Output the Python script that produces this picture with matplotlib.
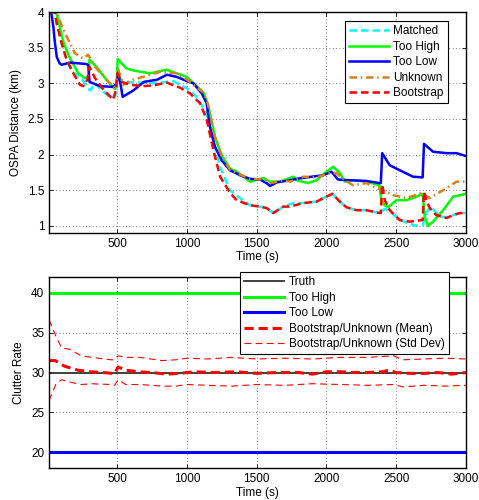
import matplotlib
matplotlib.use("Agg")
import matplotlib.pyplot as plt

plt.rcParams['font.family'] = ['Liberation Sans', 'DejaVu Sans']
plt.rcParams['font.size'] = 8.5

# ---- top panel: OSPA distance (km) vs time (s)
t_low = [10, 25, 40, 50, 65, 85, 100, 160, 280, 292, 300, 375, 470, 495, 507, 538, 615, 690, 785,
         855, 925, 1000, 1045, 1105, 1140, 1164, 1200, 1248, 1308, 1380, 1451, 1523, 1570, 1595,
         1643, 1738, 1786, 1857, 1976, 2036, 2083, 2167, 2287, 2380, 2390, 2400, 2454, 2526, 2621,
         2690, 2700, 2765, 2861, 2933, 3000]
ospa_low = [4.0, 4.0, 3.8, 3.6, 3.37, 3.28, 3.26, 3.29, 3.27, 3.25, 3.02, 2.96, 2.95, 3.0, 3.16,
            2.81, 2.9, 3.02, 3.05, 3.12, 3.09, 3.03, 3.0, 2.86, 2.72, 2.39, 2.11, 1.92, 1.78, 1.71,
            1.66, 1.65, 1.6, 1.56, 1.61, 1.64, 1.66, 1.68, 1.71, 1.76, 1.65, 1.64, 1.63, 1.6, 1.6,
            2.02, 1.85, 1.78, 1.69, 1.68, 2.15, 2.04, 2.02, 2.02, 1.98]

t_high = [10, 60, 75, 115, 160, 220, 268, 292, 300, 350, 422, 482, 494, 502, 565, 613, 733, 853,
          997, 1117, 1150, 1200, 1250, 1310, 1356, 1452, 1547, 1595, 1667, 1762, 1786, 1870, 1929,
          2000, 2048, 2096, 2132, 2191, 2287, 2380, 2394, 2418, 2442, 2502, 2574, 2646, 2690, 2705,
          2729, 2765, 2837, 2909, 2957, 3000]
ospa_high = [4.0, 4.0, 3.89, 3.56, 3.35, 3.14, 3.07, 3.1, 3.33, 3.23, 3.05, 2.92, 2.95, 3.34, 3.21,
             3.18, 3.14, 3.19, 3.09, 2.87, 2.7, 2.25, 1.98, 1.8, 1.76, 1.62, 1.67, 1.62, 1.62, 1.69,
             1.64, 1.6, 1.64, 1.76, 1.83, 1.74, 1.62, 1.64, 1.62, 1.57, 1.36, 1.29, 1.26, 1.36,
             1.36, 1.41, 1.45, 1.13, 1.0, 1.06, 1.22, 1.41, 1.43, 1.45]

t_unk = [10, 70, 75, 125, 196, 255, 290, 340, 422, 470, 490, 505, 540, 613, 685, 805, 925, 1000,
         1117, 1150, 1200, 1250, 1310, 1380, 1450, 1550, 1600, 1700, 1738, 1834, 1929, 2024, 2072,
         2132, 2191, 2287, 2359, 2407, 2478, 2574, 2681, 2741, 2837, 2933, 3000]
ospa_unk = [4.0, 4.0, 3.93, 3.7, 3.42, 3.35, 3.4, 3.23, 3.05, 2.95, 2.93, 3.2, 2.98, 3.05, 3.09,
            3.16, 3.14, 3.05, 2.87, 2.7, 2.25, 1.97, 1.78, 1.72, 1.66, 1.65, 1.6, 1.64, 1.62, 1.69,
            1.68, 1.74, 1.74, 1.64, 1.57, 1.6, 1.53, 1.5, 1.43, 1.39, 1.46, 1.39, 1.5, 1.62, 1.62]

t_boot = [10, 50, 65, 100, 136, 184, 231, 255, 284, 300, 340, 400, 470, 490, 500, 530, 590, 685,
          757, 853, 948, 1020, 1093, 1141, 1189, 1237, 1309, 1356, 1451, 1523, 1571, 1619, 1690,
          1738, 1834, 1929, 2000, 2043, 2096, 2144, 2215, 2287, 2380, 2390, 2400, 2418, 2454, 2526,
          2598, 2681, 2690, 2700, 2717, 2741, 2789, 2861, 2909, 2957, 3000]
ospa_boot = [4.0, 4.0, 3.84, 3.56, 3.33, 3.14, 2.98, 2.96, 3.05, 3.23, 3.07, 2.91, 2.77, 2.91,
             3.14, 3.02, 2.98, 2.96, 2.97, 3.01, 2.94, 2.86, 2.72, 2.49, 2.06, 1.69, 1.46, 1.36,
             1.29, 1.27, 1.25, 1.18, 1.27, 1.27, 1.32, 1.34, 1.41, 1.45, 1.34, 1.26, 1.22, 1.22,
             1.18, 1.18, 1.58, 1.36, 1.22, 1.08, 1.06, 1.08, 1.08, 1.48, 1.36, 1.25, 1.15, 1.11,
             1.15, 1.18, 1.18]

t_match = [10, 50, 65, 100, 136, 173, 209, 250, 280, 305, 340, 400, 460, 485, 500, 540, 660, 757,
           853, 902, 997, 1069, 1140, 1188, 1236, 1308, 1380, 1451, 1523, 1571, 1619, 1690, 1762,
           1834, 1929, 2000, 2043, 2096, 2144, 2215, 2287, 2380, 2420, 2454, 2502, 2574, 2646,
           2690, 2720, 2753, 2813, 2861, 2909, 2957, 3000]
ospa_match = [4.0, 4.0, 3.84, 3.56, 3.33, 3.16, 3.12, 3.05, 2.95, 2.9, 3.0, 2.88, 2.79, 2.83, 3.1,
              3.02, 3.01, 3.0, 3.02, 3.03, 2.93, 2.81, 2.58, 2.2, 1.83, 1.5, 1.39, 1.29, 1.27,
              1.25, 1.18, 1.27, 1.32, 1.32, 1.34, 1.41, 1.45, 1.34, 1.26, 1.22, 1.22, 1.18, 1.24,
              1.2, 1.13, 1.04, 1.0, 1.01, 1.2, 1.26, 1.13, 1.12, 1.15, 1.18, 1.18]

# ---- bottom panel: clutter rate
t_mean = [10, 55, 120, 216, 300, 400, 460, 480, 505, 560, 650, 750, 850, 950, 1050, 1200, 1350,
          1500, 1650, 1800, 1900, 2000, 2100, 2200, 2300, 2400, 2450, 2500, 2600, 2700, 2800,
          2900, 3000]
rate_mean = [31.5, 31.5, 30.8, 30.3, 30.1, 30.0, 29.9, 29.9, 30.7, 30.3, 30.1, 30.0, 29.8, 29.9,
             30.1, 30.0, 30.1, 29.9, 30.0, 30.0, 29.8, 30.1, 30.1, 30.0, 30.0, 30.1, 30.3, 30.0,
             29.9, 29.9, 30.0, 29.8, 30.0]
t_std = [10, 60, 100, 160, 240, 315, 455, 480, 505, 560, 660, 820, 920, 1000, 1150, 1320, 1500,
         1700, 1900, 2100, 2300, 2480, 2550, 2700, 2850, 3000]
rate_std_hi = [36.6, 34.5, 33.1, 32.9, 32.1, 31.9, 31.6, 31.6, 32.1, 31.9, 31.9, 31.5, 31.6, 31.8,
               31.7, 31.9, 31.7, 31.8, 31.7, 31.9, 31.9, 32.1, 31.6, 31.7, 31.8, 31.7]
rate_std_lo = [26.5, 28.6, 29.1, 28.8, 28.5, 28.6, 28.5, 28.4, 29.1, 28.5, 28.5, 28.3, 28.3, 28.5,
               28.4, 28.3, 28.5, 28.4, 28.6, 28.5, 28.4, 28.5, 28.2, 28.4, 28.3, 28.4]
t_span = [10, 3000]
rate_truth, rate_high, rate_low = 30, 40, 20

c_cyan, c_green, c_blue, c_orange, c_red = '#00ffff', '#00ff00', '#0000ff', '#d9801a', '#ff0000'
dash = (0, (3, 1.6))


def style(ax):
    ax.set_xlim(10, 3000)
    ax.set_xticks([500, 1000, 1500, 2000, 2500, 3000])
    ax.tick_params(direction='in', top=True, right=True, length=3, width=0.6, labelsize=8.5)
    ax.grid(True, color='#555555', linestyle=(0, (1, 3)), linewidth=0.6)
    for s in ax.spines.values():
        s.set_linewidth(1.0)
    ax.set_xlabel('Time (s)', labelpad=1)


fig = plt.figure(figsize=(4.79, 5.0), dpi=100)
ax1 = fig.add_axes([0.1025, 0.534, 0.870, 0.442])
ax1.plot(t_match, ospa_match, color=c_cyan, lw=1.8, linestyle=dash, label='Matched')
ax1.plot(t_high, ospa_high, color=c_green, lw=1.8, label='Too High')
ax1.plot(t_low, ospa_low, color=c_blue, lw=1.8, label='Too Low')
ax1.plot(t_unk, ospa_unk, color=c_orange, lw=1.8, linestyle=(0, (3, 1.5, 0.6, 1.5)), label='Unknown')
ax1.plot(t_boot, ospa_boot, color=c_red, lw=1.8, linestyle=dash, label='Bootstrap')
ax1.set_ylim(0.9, 4)
ax1.set_yticks([1, 1.5, 2, 2.5, 3, 3.5, 4])
ax1.set_yticklabels(['1', '1.5', '2', '2.5', '3', '3.5', '4'])
ax1.set_ylabel('OSPA Distance (km)')
style(ax1)
ax1.legend(loc='upper right', bbox_to_anchor=(448 / 479, 1 - 21 / 500), bbox_transform=fig.transFigure,
           borderaxespad=0, fancybox=False, edgecolor='black', framealpha=1, fontsize=8.5,
           handlelength=3.4, handletextpad=0.4, labelspacing=0.3, borderpad=0.35).get_frame().set_linewidth(0.8)

ax2 = fig.add_axes([0.1025, 0.0634, 0.870, 0.383])
ax2.plot(t_span, [rate_truth] * 2, color='#333333', lw=1.3, label='Truth')
ax2.plot(t_span, [rate_high] * 2, color=c_green, lw=2.2, label='Too High')
ax2.plot(t_span, [rate_low] * 2, color=c_blue, lw=2.2, label='Too Low')
ax2.plot(t_mean, rate_mean, color=c_red, lw=2.2, linestyle=dash, label='Bootstrap/Unknown (Mean)')
ax2.plot(t_std, rate_std_hi, color=c_red, lw=0.8, linestyle=(0, (6, 4)), label='Bootstrap/Unknown (Std Dev)')
ax2.plot(t_std, rate_std_lo, color=c_red, lw=0.8, linestyle=(0, (6, 4)))
ax2.set_ylim(18, 42)
ax2.set_yticks([20, 25, 30, 35, 40])
ax2.set_ylabel('Clutter Rate')
style(ax2)
leg = ax2.legend(loc='upper right', bbox_to_anchor=(449 / 479, 1 - 272 / 500), bbox_transform=fig.transFigure,
                 borderaxespad=0, fancybox=False, edgecolor='black', framealpha=1, fontsize=8.5,
                 handlelength=3.4, handletextpad=0.4, labelspacing=0.3, borderpad=0.35)
leg.get_frame().set_linewidth(0.8)

fig.savefig('out.png', dpi=100)
